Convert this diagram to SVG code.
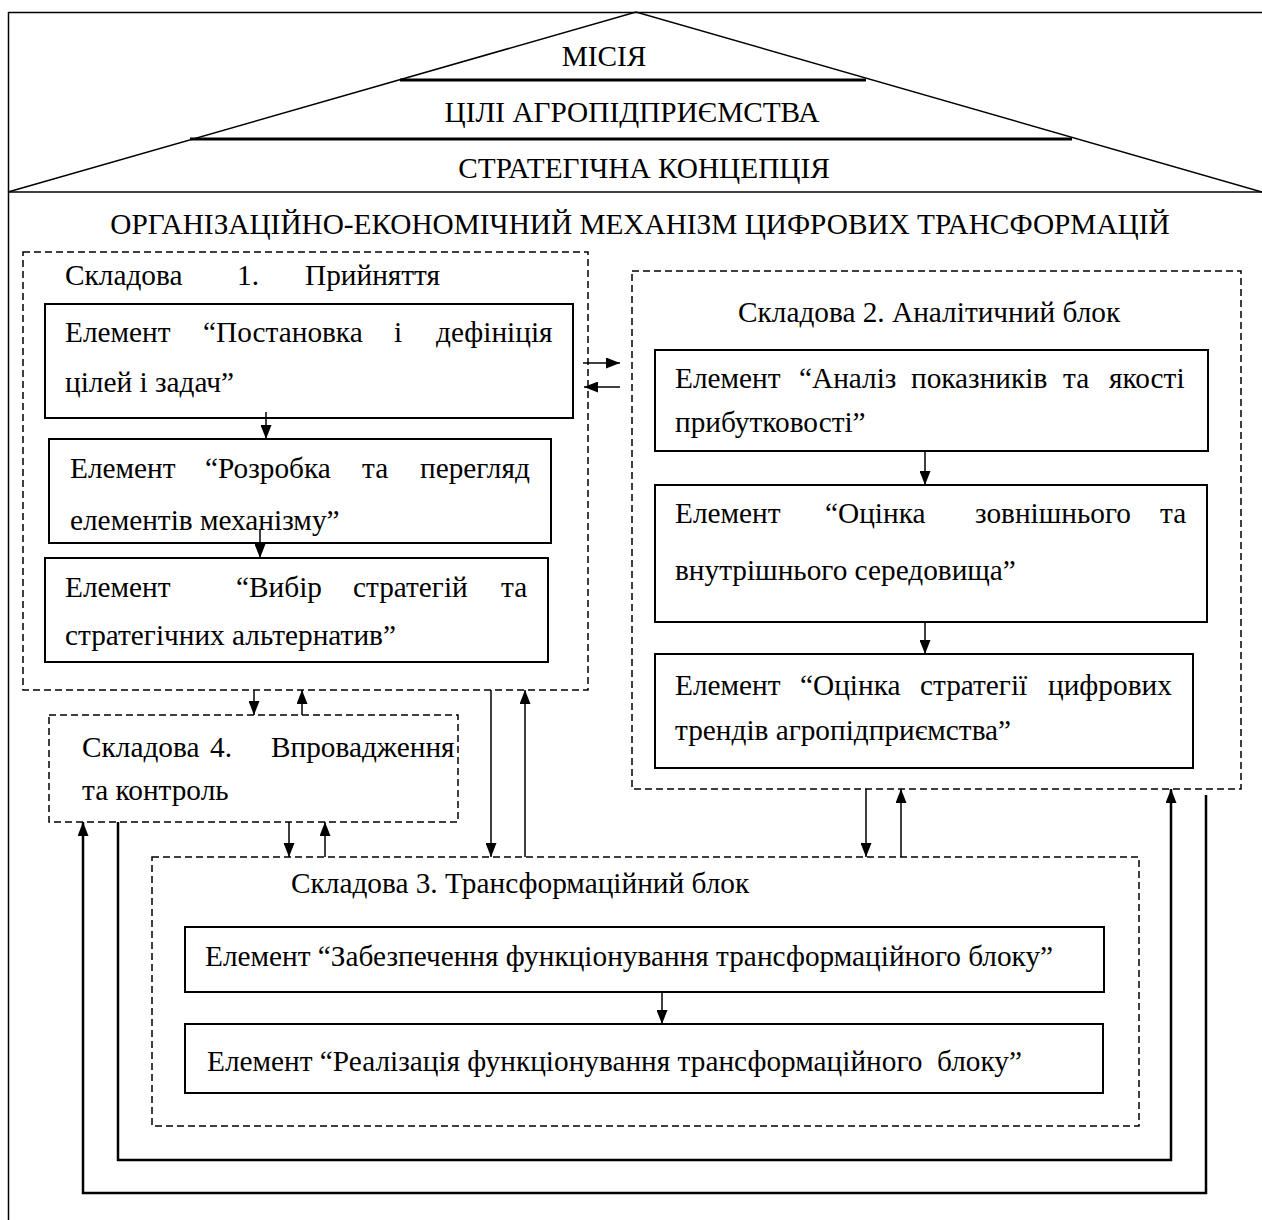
<svg xmlns="http://www.w3.org/2000/svg" width="1262" height="1220" viewBox="0 0 1262 1220">
  <style>
    .t { font-family: "Liberation Serif", "Times New Roman", serif; font-size: 29.3px; fill: #000; }
    .box { fill: #fff; stroke: #000; stroke-width: 2; }
    .dash { fill: none; stroke: #000; stroke-width: 1.5; stroke-dasharray: 7 4; }
    .ln { fill: none; stroke: #000; stroke-width: 1.5; }
    .loop { fill: none; stroke: #000; stroke-width: 2.5; }
    .bar { stroke: #000; stroke-width: 3; }
  </style>
  <defs>
    <marker id="arr" viewBox="0 0 14 11" refX="14" refY="5.5" markerWidth="14" markerHeight="11" markerUnits="userSpaceOnUse" orient="auto">
      <path d="M0,0 L14,5.5 L0,11 z" fill="#000"/>
    </marker>
  </defs>

  <rect width="1262" height="1220" fill="#fff"/>

  <!-- outer frame and roof -->
  <g id="roof">
    <line x1="8" y1="12.5" x2="1262" y2="12.5" class="ln"/>
    <line x1="8.5" y1="12" x2="8.5" y2="1220" class="ln"/>
    <line x1="8" y1="192" x2="1262" y2="192" class="ln"/>
    <polyline points="8,192 636,12 1262,192" class="ln"/>
    <line x1="400" y1="80" x2="866" y2="80" class="bar"/>
    <line x1="190" y1="139" x2="1072" y2="139" class="bar"/>
    <text class="t" x="604" y="66" text-anchor="middle">МІСІЯ</text>
    <text class="t" x="632" y="122" text-anchor="middle">ЦІЛІ АГРОПІДПРИЄМСТВА</text>
    <text class="t" x="644" y="178" text-anchor="middle">СТРАТЕГІЧНА КОНЦЕПЦІЯ</text>
  </g>

  <text id="title" class="t" x="640" y="234" text-anchor="middle">ОРГАНІЗАЦІЙНО-ЕКОНОМІЧНИЙ МЕХАНІЗМ ЦИФРОВИХ ТРАНСФОРМАЦІЙ</text>

  <!-- Component 1 -->
  <g id="comp1">
    <rect x="23" y="252" width="565" height="438" class="dash"/>
    <text class="t" y="285"><tspan x="65">Складова</tspan><tspan x="237">1.</tspan><tspan x="305">Прийняття</tspan></text>
  </g>
  <g id="comp1-el1">
    <rect x="45" y="304" width="528" height="114" class="box"/>
    <text class="t" y="342"><tspan x="65">Елемент</tspan><tspan x="203">“Постановка</tspan><tspan x="394">і</tspan><tspan x="436">дефініція</tspan></text>
    <text class="t" x="65" y="392">цілей і задач”</text>
  </g>
  <g id="comp1-el2">
    <rect x="49" y="439" width="502" height="104" class="box"/>
    <text class="t" y="478"><tspan x="70">Елемент</tspan><tspan x="205">“Розробка</tspan><tspan x="362">та</tspan><tspan x="420">перегляд</tspan></text>
    <text class="t" x="70" y="530">елементів механізму”</text>
  </g>
  <g id="comp1-el3">
    <rect x="45" y="558" width="503" height="104" class="box"/>
    <text class="t" y="597"><tspan x="65">Елемент</tspan><tspan x="236">“Вибір</tspan><tspan x="353">стратегій</tspan><tspan x="501">та</tspan></text>
    <text class="t" x="65" y="645">стратегічних альтернатив”</text>
  </g>

  <!-- Component 2 -->
  <g id="comp2">
    <rect x="632" y="271" width="609" height="518" class="dash"/>
    <text class="t" x="738" y="322">Складова 2. Аналітичний блок</text>
  </g>
  <g id="comp2-el1">
    <rect x="655" y="350" width="553" height="101" class="box"/>
    <text class="t" y="388"><tspan x="675">Елемент</tspan><tspan x="799">“Аналіз</tspan><tspan x="911">показників</tspan><tspan x="1063">та</tspan><tspan x="1109">якості</tspan></text>
    <text class="t" x="675" y="432">прибутковості”</text>
  </g>
  <g id="comp2-el2">
    <rect x="655" y="485" width="552" height="137" class="box"/>
    <text class="t" y="523"><tspan x="675">Елемент</tspan><tspan x="825">“Оцінка</tspan><tspan x="975">зовнішнього</tspan><tspan x="1160">та</tspan></text>
    <text class="t" x="675" y="580">внутрішнього середовища”</text>
  </g>
  <g id="comp2-el3">
    <rect x="655" y="654" width="538" height="114" class="box"/>
    <text class="t" y="695"><tspan x="675">Елемент</tspan><tspan x="800">“Оцінка</tspan><tspan x="920">стратегії</tspan><tspan x="1048">цифрових</tspan></text>
    <text class="t" x="675" y="740">трендів агропідприємства”</text>
  </g>

  <!-- Component 4 -->
  <g id="comp4">
    <rect x="49" y="715" width="409" height="107" class="dash"/>
    <text class="t" y="757"><tspan x="82">Складова</tspan><tspan x="210">4.</tspan><tspan x="271">Впровадження</tspan></text>
    <text class="t" x="82" y="800">та контроль</text>
  </g>

  <!-- Component 3 -->
  <g id="comp3">
    <rect x="152" y="857" width="987" height="269" class="dash"/>
    <text class="t" x="291" y="893">Складова 3. Трансформаційний блок</text>
  </g>
  <g id="comp3-el1">
    <rect x="185" y="927" width="919" height="65" class="box"/>
    <text class="t" x="205" y="966">Елемент “Забезпечення функціонування трансформаційного блоку”</text>
  </g>
  <g id="comp3-el2">
    <rect x="185" y="1024" width="918" height="69" class="box"/>
    <text class="t" x="207" y="1071" xml:space="preserve">Елемент “Реалізація функціонування трансформаційного  блоку”</text>
  </g>

  <!-- connectors -->
  <g id="connectors">
    <line x1="266" y1="412" x2="266" y2="439" class="ln" marker-end="url(#arr)"/>
    <line x1="260" y1="530" x2="260" y2="558" class="ln" marker-end="url(#arr)"/>
    <line x1="925" y1="451" x2="925" y2="485" class="ln" marker-end="url(#arr)"/>
    <line x1="925" y1="622" x2="925" y2="654" class="ln" marker-end="url(#arr)"/>
    <line x1="662" y1="992" x2="662" y2="1024" class="ln" marker-end="url(#arr)"/>

    <line x1="583" y1="363" x2="620" y2="363" class="ln" marker-end="url(#arr)"/>
    <line x1="620" y1="387" x2="584" y2="387" class="ln" marker-end="url(#arr)"/>

    <line x1="254" y1="690" x2="254" y2="715" class="ln" marker-end="url(#arr)"/>
    <line x1="302" y1="715" x2="302" y2="690" class="ln" marker-end="url(#arr)"/>

    <line x1="289" y1="822" x2="289" y2="857" class="ln" marker-end="url(#arr)"/>
    <line x1="325" y1="857" x2="325" y2="822" class="ln" marker-end="url(#arr)"/>

    <line x1="491" y1="690" x2="491" y2="857" class="ln" marker-end="url(#arr)"/>
    <line x1="525" y1="857" x2="525" y2="690" class="ln" marker-end="url(#arr)"/>

    <line x1="866" y1="789" x2="866" y2="857" class="ln" marker-end="url(#arr)"/>
    <line x1="901" y1="857" x2="901" y2="789" class="ln" marker-end="url(#arr)"/>

    <polyline points="118,822 118,1160 1171,1160 1171,789" class="loop" marker-end="url(#arr)"/>
    <polyline points="1206,795 1206,1193 83,1193 83,822" class="loop" marker-end="url(#arr)"/>
  </g>
</svg>
